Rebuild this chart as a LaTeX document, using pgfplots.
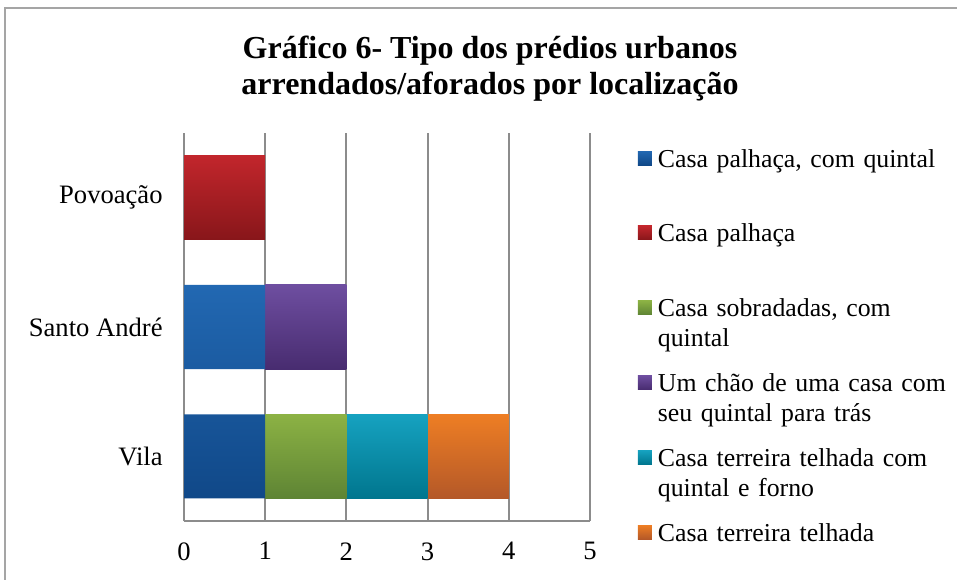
\documentclass[border=0pt]{standalone}
\usepackage{fontspec}
\setmainfont{Liberation Serif}
\usepackage{pgfplots}
\pgfplotsset{compat=1.18}
\usepackage{pgfplotstable}

\definecolor{gridgray}{RGB}{140,140,140}
\definecolor{framegray}{RGB}{165,165,165}
\definecolor{blueT}{RGB}{34,104,178}
\definecolor{blueB}{RGB}{16,72,136}
\definecolor{redT}{RGB}{194,38,44}
\definecolor{redB}{RGB}{136,22,26}
\definecolor{greenT}{RGB}{140,178,68}
\definecolor{greenB}{RGB}{94,132,52}
\definecolor{purpleT}{RGB}{110,78,160}
\definecolor{purpleB}{RGB}{72,44,112}
\definecolor{tealT}{RGB}{22,162,192}
\definecolor{tealB}{RGB}{0,118,142}
\definecolor{orangeT}{RGB}{238,126,36}
\definecolor{orangeB}{RGB}{180,88,40}

% pos: 0 = Vila, 1 = Santo André, 2 = Povoação
\pgfplotstableread{
pos blue red green purple teal orange
0   1    0   1     0      1    1
1   1    0   0     1      0    0
2   0    1   0     0      0    0
}\datatable

\begin{document}
\begin{tikzpicture}
\clip (0pt,0pt) rectangle (478.5pt,-289.5pt);
\draw[framegray, line width=1pt] (2.5pt,-4pt) rectangle (700pt,-500pt);

\node[align=center, font=\fontsize{16}{18}\selectfont\bfseries]
  at (245pt,-34.5pt) {Gráfico 6- Tipo dos prédios urbanos\\arrendados/aforados por localização};

\begin{axis}[
  at={(92pt,-260.5pt)}, anchor=south west,
  scale only axis, width=203pt, height=194pt,
  xbar stacked, bar width=0.65,
  xmin=0, xmax=5, ymin=-0.5, ymax=2.5,
  xtick={0,1,2,3,4,5},
  ytick={0,1,2}, yticklabels={Vila,Santo André,Povoação},
  axis lines*=left,
  axis line style={gridgray, line width=1pt, -},
  xmajorgrids, grid style={gridgray, line width=1pt},
  major tick length=0pt,
  /pgf/number format/assume math mode=true,
  tick label style={font=\fontsize{13.3}{15}\selectfont},
  xticklabel style={inner sep=0pt, yshift=-10.5pt},
  yticklabel style={inner sep=0pt, xshift=-10.5pt},
  legend image code/.code={\path[#1] (0pt,1pt) rectangle (7pt,8pt);},
  legend style={
    at={(rel axis cs:1.118,0.961)}, anchor=north west,
    draw=none, fill=none, inner sep=0pt, outer sep=0pt,
    row sep=0pt, column sep=3pt,
    cells={anchor=base west},
    nodes={font=\fontsize{12.9}{15}\selectfont, inner sep=0pt,
      anchor=base west, align=left, text width=150pt,
      text height=9.5pt, text depth=27.9pt},
  },
]
\addplot[draw=none, top color=blueT, bottom color=blueB]
  table[x=blue, y=pos] {\datatable};
\addlegendentry{Casa palhaça, com quintal}
\addplot[draw=none, top color=redT, bottom color=redB]
  table[x=red, y=pos] {\datatable};
\addlegendentry{Casa palhaça}
\addplot[draw=none, top color=greenT, bottom color=greenB]
  table[x=green, y=pos] {\datatable};
\addlegendentry{Casa sobradadas, com\\quintal}
\addplot[draw=none, top color=purpleT, bottom color=purpleB]
  table[x=purple, y=pos] {\datatable};
\addlegendentry{Um chão de uma casa com\\seu quintal para trás}
\addplot[draw=none, top color=tealT, bottom color=tealB]
  table[x=teal, y=pos] {\datatable};
\addlegendentry{Casa terreira telhada com\\quintal e forno}
\addplot[draw=none, top color=orangeT, bottom color=orangeB]
  table[x=orange, y=pos] {\datatable};
\addlegendentry{Casa terreira telhada}
\end{axis}
\end{tikzpicture}
\end{document}
